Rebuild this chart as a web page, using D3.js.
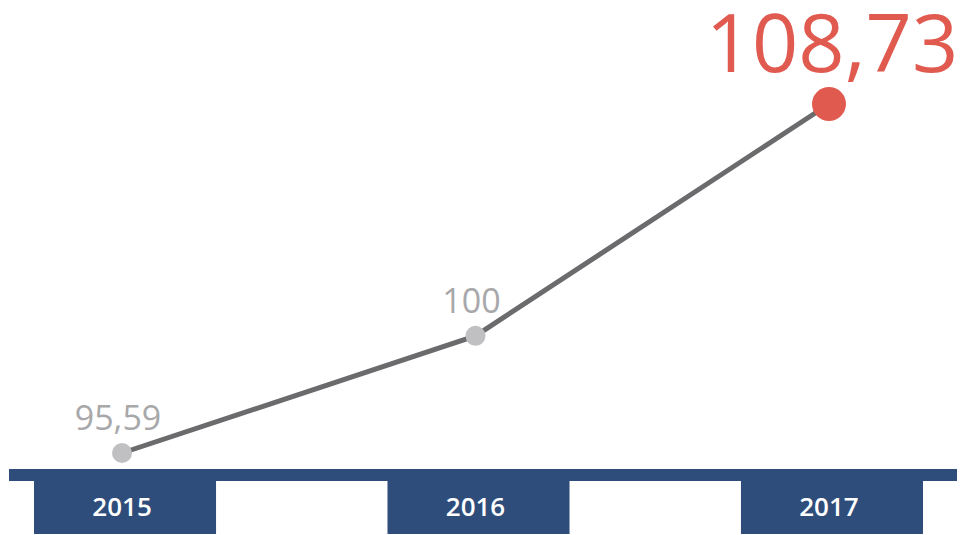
<!DOCTYPE html>
<html>
<head>
<meta charset="utf-8">
<script src="https://cdn.jsdelivr.net/npm/d3@7"></script>
<style>
  body { margin: 0; background: #fff; }
  svg { display: block; font-family: "Open Sans", sans-serif; }
</style>
</head>
<body>
<div id="chart"></div>
<script>
// data
const years = ['2015', '2016', '2017'];
const values = [95.59, 100, 108.73];
const valueLabels = ['95,59', '100', '108,73'];

const width = 965;
const height = 535;

const svg = d3.select('#chart')
    .append('svg')
    .attr('width', width)
    .attr('height', height);

const x = d3.scaleBand()
    .domain(years)
    .range([34, 923])
    .paddingInner(0.485)
    .paddingOuter(0);

const y = d3.scaleLinear()
    .domain([95.59, 108.73])
    .range([453, 104]);

const cx = d => x(d) + x.bandwidth() / 2 - 3;

// baseline strip + year tabs
svg.append('rect')
    .attr('x', 9)
    .attr('y', 469)
    .attr('width', 948)
    .attr('height', 12)
    .attr('fill', '#2e4d7b');

svg.selectAll('rect.tab')
    .data(years)
    .enter()
    .append('rect')
    .attr('class', 'tab')
    .attr('x', d => x(d))
    .attr('y', 480)
    .attr('width', x.bandwidth())
    .attr('height', 54)
    .attr('fill', '#2e4d7b');

svg.selectAll('text.year')
    .data(years)
    .enter()
    .append('text')
    .attr('class', 'year')
    .attr('x', d => cx(d))
    .attr('y', 516)
    .attr('text-anchor', 'middle')
    .attr('fill', '#fff')
    .style('font-size', '26px')
    .style('font-weight', 600)
    .text(d => d);

// line
const line = d3.line()
    .x((d, i) => cx(years[i]))
    .y(d => y(d));

svg.append('path')
    .datum(values)
    .attr('d', line)
    .attr('fill', 'none')
    .attr('stroke', '#6b6b6d')
    .attr('stroke-width', 5);

const last = values.length - 1;

svg.selectAll('circle.pt')
    .data(values)
    .enter()
    .append('circle')
    .attr('class', 'pt')
    .attr('cx', (d, i) => cx(years[i]))
    .attr('cy', d => y(d))
    .attr('r', (d, i) => i === last ? 17 : 10)
    .attr('fill', (d, i) => i === last ? '#e05a50' : '#c0c0c2');

svg.selectAll('text.val')
    .data(values)
    .enter()
    .append('text')
    .attr('class', 'val')
    .attr('x', (d, i) => cx(years[i]) + (i === last ? 3 : -4))
    .attr('y', (d, i) => i === last ? y(d) - 32 : y(d) - 23)
    .attr('text-anchor', 'middle')
    .attr('fill', (d, i) => i === last ? '#e05a50' : '#a8a8aa')
    .style('font-size', (d, i) => i === last ? '81px' : '34px')
    .text((d, i) => valueLabels[i]);
</script>
</body>
</html>
